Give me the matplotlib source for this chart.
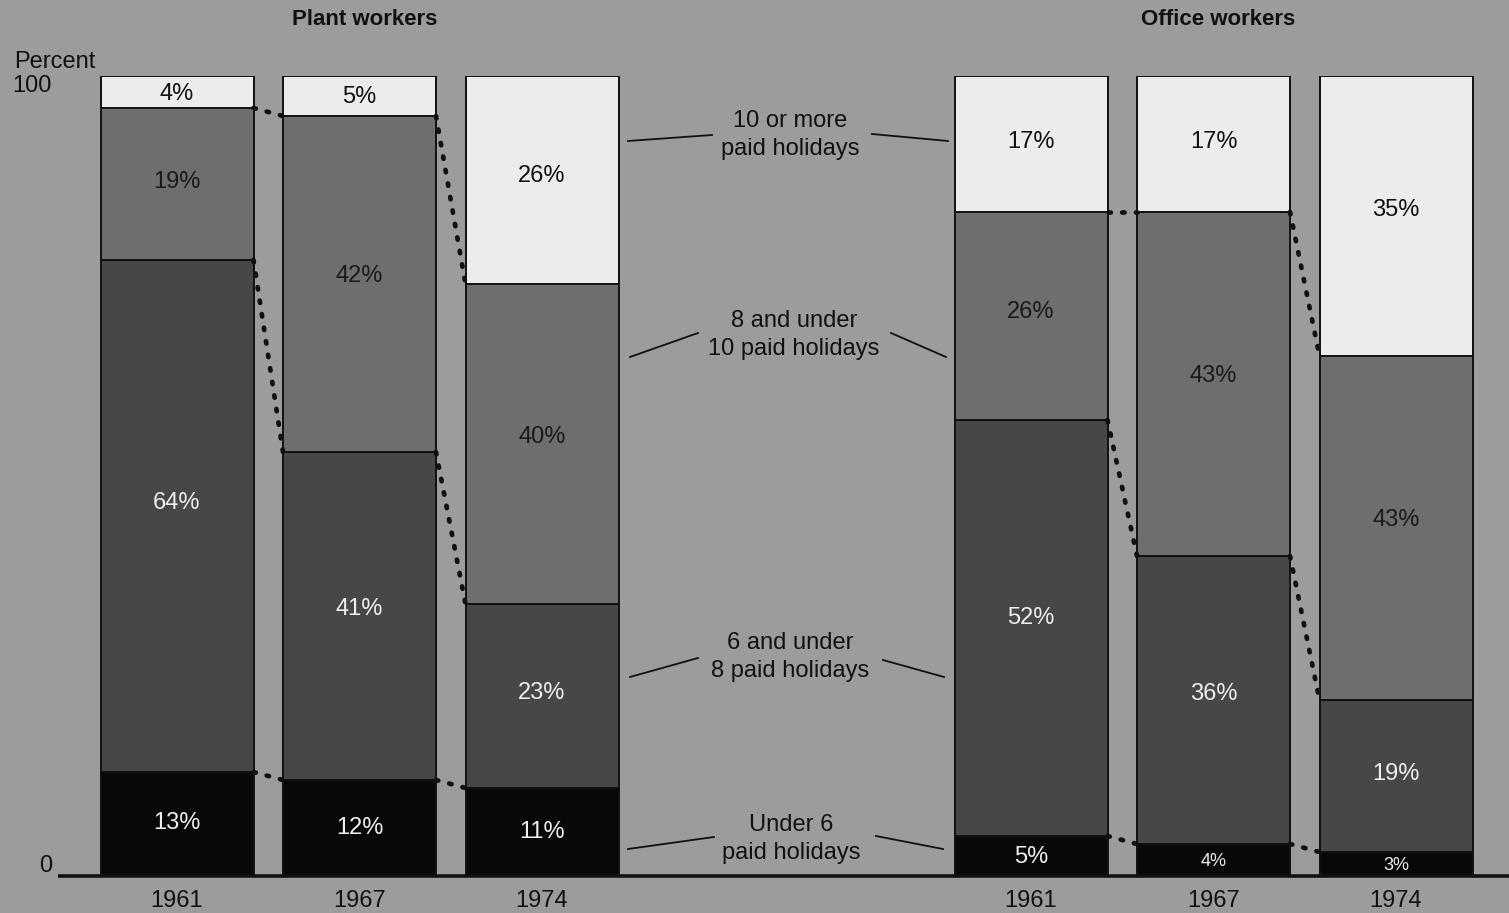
import matplotlib
matplotlib.use("Agg")
import matplotlib.pyplot as plt
import numpy as np

plt.rcParams['font.family'] = ['Liberation Sans', 'DejaVu Sans']

# ---- data ----
groups = ["Plant workers", "Office workers"]
years = ["1961", "1967", "1974"]
categories = ["Under 6\npaid holidays", "6 and under\n8 paid holidays",
              "8 and under\n10 paid holidays", "10 or more\npaid holidays"]
# values per year, bottom-to-top: under 6, 6-8, 8-10, 10+
plant_under6 = [13, 12, 11]
plant_6to8 = [64, 41, 23]
plant_8to10 = [19, 42, 40]
plant_10plus = [4, 5, 26]
office_under6 = [5, 4, 3]
office_6to8 = [52, 36, 19]
office_8to10 = [26, 43, 43]
office_10plus = [17, 17, 35]

# ---- styling ----
BG = "#9c9c9c"
seg_colors = ["#080808", "#474747", "#6e6e6e", "#ececec"]
txt_colors = ["#eeeeee", "#eeeeee", "#1a1a1a", "#111111"]

W, H = 1509, 913
fig = plt.figure(figsize=(W / 100, H / 100), dpi=100, facecolor=BG)
base_px, top_px = 876, 76
ax = fig.add_axes([0, (H - base_px) / H, 1, (base_px - top_px) / H])
ax.set_facecolor(BG)
ax.set_xlim(0, W)
ax.set_ylim(0, 100)
ax.axis("off")

bar_w = 153
spacing = 182.5
group_first_center = [177, 1031]

series = {
    0: [plant_under6, plant_6to8, plant_8to10, plant_10plus],
    1: [office_under6, office_6to8, office_8to10, office_10plus],
}

FS = 17
for g in range(2):
    segs = np.array(series[g])  # shape (4, 3)
    centers = group_first_center[g] + spacing * np.arange(len(years))
    bottoms = np.zeros(len(years))
    tops_all = []
    for k in range(4):
        vals = segs[k]
        ax.bar(centers, vals, width=bar_w, bottom=bottoms, color=seg_colors[k],
               edgecolor="#111111", linewidth=1.4, zorder=2)
        for i, v in enumerate(vals):
            fs = 13 if (v < 5 and k == 0) else FS
            ax.text(centers[i], bottoms[i] + v * 0.53, f"{v}%", ha="center",
                    va="center_baseline", fontsize=fs, color=txt_colors[k], zorder=4)
        bottoms = bottoms + vals
        tops_all.append(bottoms.copy())
    # dotted connectors for the three inner boundaries
    for k in range(3):
        tops = tops_all[k]
        for i in range(len(years) - 1):
            x0 = centers[i] + bar_w / 2
            x1 = centers[i + 1] - bar_w / 2
            ax.plot([x0, x1], [tops[i], tops[i + 1]], linestyle=(0, (0.5, 2.4)),
                    color="#111111", linewidth=3.4, dash_capstyle="round", zorder=3)
    # group title
    ax.text(centers[1] + 5, 107.0, groups[g], ha="center", va="center",
            fontsize=16, fontweight="bold", color="#111111", clip_on=False)
    # year labels
    for i, yr in enumerate(years):
        ax.text(centers[i], -3.1, yr, ha="center", va="center", fontsize=FS,
                color="#111111", clip_on=False)

# baseline
ax.plot([58, W], [0, 0], color="#111111", linewidth=2.6, zorder=5, clip_on=False,
        solid_capstyle="butt")

# y-axis labels
ax.text(52, 1.2, "0", ha="right", va="center", fontsize=FS, color="#111111")
ax.text(52, 98.7, "100", ha="right", va="center", fontsize=FS, color="#111111", clip_on=False)
ax.text(55, 101.8, "Percent", ha="center", va="center", fontsize=FS, color="#111111", clip_on=False)

# middle category labels with leader lines
def py(p):
    return (base_px - p) / 8.0

label_specs = [
    (categories[3], 790, 135, [(628, 141, 712, 135), (872, 134, 948, 141)]),
    (categories[2], 794, 335, [(630, 357, 698, 333), (891, 333, 946, 357)]),
    (categories[1], 790, 657, [(630, 677, 698, 658), (883, 660, 944, 677)]),
    (categories[0], 791, 839, [(628, 849, 714, 837), (876, 836, 943, 849)]),
]
for text, cx, cy, lines in label_specs:
    ax.text(cx, py(cy), text, ha="center", va="center", fontsize=FS,
            color="#111111", linespacing=1.4, zorder=4)
    for x0, y0, x1, y1 in lines:
        ax.plot([x0, x1], [py(y0), py(y1)], color="#111111", linewidth=1.3, zorder=4)

fig.savefig("out.png", dpi=100, facecolor=BG)
